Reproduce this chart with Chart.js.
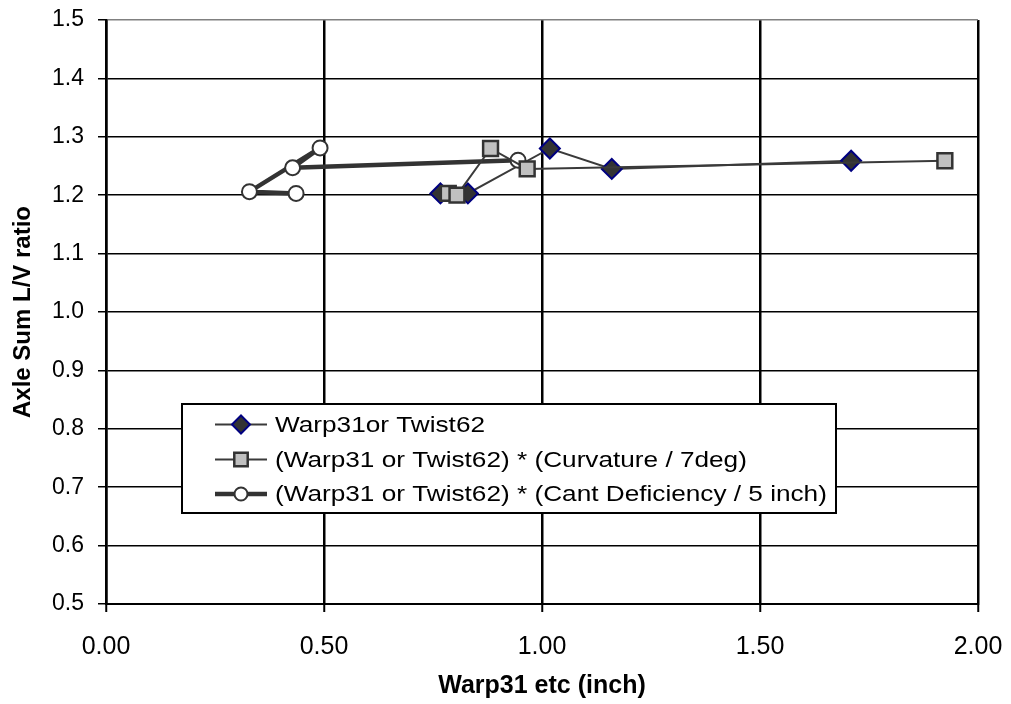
<!DOCTYPE html>
<html>
<head>
<meta charset="utf-8">
<script src="https://cdn.jsdelivr.net/npm/chart.js@4"></script>
<style>
  html, body { margin: 0; padding: 0; background: #fff; }
  #wrap { width: 1011px; height: 704px; position: relative; }
</style>
</head>
<body>
<div id="wrap"><canvas id="chart" width="1011" height="704"></canvas></div>
<script>
const seriesNames = [
  'Warp31or Twist62',
  '(Warp31 or Twist62) * (Curvature / 7deg)',
  '(Warp31 or Twist62) * (Cant Deficiency / 5 inch)',
];
const warpX = [0.767, 0.830, 1.018, 1.160, 1.709];
const warpY = [1.203, 1.203, 1.280, 1.245, 1.259];
const curvX = [0.785, 0.805, 0.882, 0.966, 1.924];
const curvY = [1.203, 1.200, 1.280, 1.245, 1.259];
const cantX = [0.436, 0.329, 0.491, 0.428, 0.945];
const cantY = [1.203, 1.206, 1.281, 1.247, 1.260];
const xTicks = [0, 0.5, 1.0, 1.5, 2.0];
const yTicks = [0.5, 0.6, 0.7, 0.8, 0.9, 1.0, 1.1, 1.2, 1.3, 1.4, 1.5];

const pts = (xs, ys) => xs.map((x, i) => ({ x, y: ys[i] }));

const styles = [
  { borderColor: '#3a3a3a', borderWidth: 2, pointStyle: 'rectRot', pointRadius: 10,
    pointBackgroundColor: '#333333', pointBorderColor: '#000080', pointBorderWidth: 2 },
  { borderColor: '#3a3a3a', borderWidth: 2, pointStyle: 'rect', pointRadius: 10.5,
    pointBackgroundColor: '#c0c0c0', pointBorderColor: '#333333', pointBorderWidth: 2.5 },
  { borderColor: '#333333', borderWidth: 4.5, pointStyle: 'circle', pointRadius: 7.5,
    pointBackgroundColor: '#ffffff', pointBorderColor: '#333333', pointBorderWidth: 2 },
];

// legend drawn inside the plot, like the original
const boxLegend = {
  id: 'boxLegend',
  afterDraw(chart) {
    const ctx = chart.ctx;
    const left = 182, top = 404, right = 836, bottom = 513;
    ctx.save();
    ctx.fillStyle = '#fff';
    ctx.fillRect(left, top, right - left, bottom - top);
    ctx.strokeStyle = '#000';
    ctx.lineWidth = 2;
    ctx.strokeRect(left, top, right - left, bottom - top);
    const rows = [424.5, 459.5, 494];
    rows.forEach((y, i) => {
      const s = styles[i];
      ctx.strokeStyle = s.borderColor;
      ctx.lineWidth = s.borderWidth;
      ctx.beginPath();
      ctx.moveTo(215, y);
      ctx.lineTo(267, y);
      ctx.stroke();
      ctx.fillStyle = s.pointBackgroundColor;
      ctx.strokeStyle = s.pointBorderColor;
      ctx.lineWidth = s.pointBorderWidth;
      Chart.helpers.drawPoint(ctx, { pointStyle: s.pointStyle, radius: s.pointRadius - 1, borderWidth: s.pointBorderWidth, rotation: 0 }, 241, y);
      ctx.save();
      ctx.translate(275, y);
      ctx.scale(1.19, 1);
      ctx.fillStyle = '#000';
      ctx.font = '22px "Liberation Sans", Arial, sans-serif';
      ctx.textBaseline = 'middle';
      ctx.fillText(seriesNames[i], 0, 1);
      ctx.restore();
    });
    ctx.restore();
  },
};

const font = '"Liberation Sans", Arial, sans-serif';

new Chart(document.getElementById('chart'), {
  type: 'scatter',
  data: {
    datasets: [
      { label: seriesNames[0], data: pts(warpX, warpY), showLine: true, order: 2, ...styles[0] },
      { label: seriesNames[1], data: pts(curvX, curvY), showLine: true, order: 0, ...styles[1] },
      { label: seriesNames[2], data: pts(cantX, cantY), showLine: true, order: 1, ...styles[2] },
    ],
  },
  options: {
    responsive: false,
    animation: false,
    layout: { padding: { top: 20, right: 33, bottom: 0, left: 0 } },
    plugins: { legend: { display: false }, tooltip: { enabled: false } },
    scales: {
      x: {
        type: 'linear', min: 0, max: 2,
        afterBuildTicks: (s) => { s.ticks = xTicks.map(v => ({ value: v })); },
        afterFit: (s) => { s.height = 100; s.paddingLeft = 0; s.paddingRight = 0; },
        grid: { color: '#000', lineWidth: 2.5, tickLength: 8, tickColor: '#000', tickWidth: 2 },
        border: { color: '#000', width: 2 },
        ticks: { color: '#000', font: { family: font, size: 25 }, padding: 20,
                 callback: (v) => Number(v).toFixed(2), maxRotation: 0 },
        title: { display: true, text: 'Warp31 etc (inch)', color: '#000',
                 font: { family: font, size: 25, weight: 'bold' }, padding: { top: 4, bottom: 3 } },
      },
      y: {
        type: 'linear', min: 0.5, max: 1.5,
        afterBuildTicks: (s) => { s.ticks = yTicks.map(v => ({ value: v })); },
        afterFit: (s) => { s.width = 106; s.paddingTop = 0; s.paddingBottom = 0; },
        grid: { color: (c) => (c.tick && c.tick.value === 1.5 ? '#808080' : '#000'),
                lineWidth: 1.5, tickLength: 8, tickColor: '#000', tickWidth: 1.5 },
        border: { color: '#000', width: 2.5 },
        ticks: { color: '#000', font: { family: font, size: 23 }, padding: 14,
                 callback: (v) => Number(v).toFixed(1) },
        title: { display: true, text: 'Axle Sum L/V ratio', color: '#000',
                 font: { family: font, size: 24, weight: 'bold' }, padding: { top: 9, bottom: 4 } },
      },
    },
  },
  plugins: [boxLegend],
});
</script>
</body>
</html>
